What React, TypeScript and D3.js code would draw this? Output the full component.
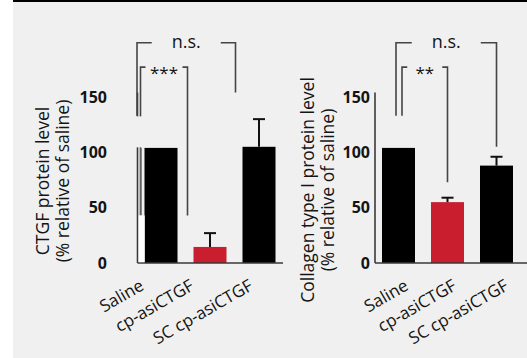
import React from 'react';
import * as d3 from 'd3';

// data
const categories = ['Saline', 'cp-asiCTGF', 'SC cp-asiCTGF'];
const ctgfMeans = [104, 14.5, 105];
const ctgfErrors = [0, 12.5, 25];
const collagenMeans = [104, 55, 88];
const collagenErrors = [0, 4, 8];
const barColors = ['#000000', '#c81e2d', '#000000'];
const yTicks = [0, 50, 100, 150];

// significance brackets (heights in axis units, dl/dr = leg shift from bar centre)
const ctgfBrackets = [
  { from: 0, to: 2, label: 'n.s.', top: 199, leftEnd: 133, rightEnd: 154, dl: -24, dr: -23.5, half: 34.5 },
  { from: 0, to: 1, label: '***', top: 177, leftEnd: 43, rightEnd: 43, dl: -20.5, dr: -22.5, half: 18.5 },
];
const collagenBrackets = [
  { from: 0, to: 2, label: 'n.s.', top: 199, leftEnd: 133, rightEnd: 105, dl: -2.5, dr: 0, half: 34.5 },
  { from: 0, to: 1, label: '**', top: 177, leftEnd: 133, rightEnd: 73, dl: 3.5, dr: 0, half: 17.5 },
];
const ctgfLabelShift = [-16, -15, -5];
const collagenLabelShift = [11, 10, 13];

const W = 527;
const H = 358;
const font = '"Open Sans", "DejaVu Sans", sans-serif';
const textColor = '#141414';
const lineColor = '#3a3a3a';

const y = d3.scaleLinear().domain([0, 150]).range([263, 97]);

type Bracket = typeof ctgfBrackets[number];

function Panel({ axisX, means, errors, brackets, title, titleX, titleY, tickX, labelShift, baseEnd, broken }: {
  axisX: number; means: number[]; errors: number[]; brackets: Bracket[];
  title: string[]; titleX: number; titleY: number; tickX: number; labelShift: number[];
  baseEnd: number; broken?: boolean;
}) {
  const x = d3.scaleBand<string>()
    .domain(categories)
    .range([axisX + 7, axisX + 7 + 131])
    .paddingInner(16 / 49)
    .paddingOuter(0);
  const bw = x.bandwidth();
  const cx = (i: number) => (x(categories[i]) as number) + bw / 2;

  return (
    <g>
      {/* y axis title */}
      <text transform={`translate(${axisX + titleX},${titleY}) rotate(-90)`} textAnchor="middle"
        fontFamily={font} fontSize={17.5} fontWeight={500} fill={textColor}>
        <tspan x={0} dy={0}>{title[0]}</tspan>
        <tspan x={0} dy={20}>{title[1]}</tspan>
      </text>

      {/* tick labels */}
      {yTicks.map(t => (
        <text key={t} x={axisX + tickX} y={y(t)} dy="0.36em" textAnchor="end"
          fontFamily={font} fontSize={16} fontWeight="bold" fill={textColor}>{t}</text>
      ))}

      {/* bars */}
      {means.map((m, i) => (
        <rect key={i} x={x(categories[i])} y={y(m)} width={bw} height={y(0) - y(m)} fill={barColors[i]} />
      ))}

      {/* error bars */}
      {means.map((m, i) => errors[i] > 0 && (
        <g key={i} stroke="#111" strokeWidth={2}>
          <line x1={cx(i)} x2={cx(i)} y1={y(m)} y2={y(m + errors[i])} />
          <line x1={cx(i) - 6} x2={cx(i) + 6} y1={y(m + errors[i])} y2={y(m + errors[i])} />
        </g>
      ))}

      {/* axes */}
      <line x1={axisX} x2={axisX} y1={y(154)} y2={y(0)} stroke={lineColor} strokeWidth={1.6} />
      <line x1={axisX} x2={baseEnd} y1={y(0)} y2={y(0)} stroke={lineColor} strokeWidth={1.6} />

      {/* brackets */}
      {brackets.map((b, k) => {
        const left = cx(b.from) + b.dl;
        const right = cx(b.to) + b.dr;
        const mid = (left + right) / 2;
        const ns = b.label === 'n.s.';
        return (
          <g key={k} fill="none" stroke="#454545" strokeWidth={1.6}>
            <polyline points={`${left},${y(b.leftEnd)} ${left},${y(b.top)} ${mid - b.half},${y(b.top)}`} />
            <polyline points={`${mid + b.half},${y(b.top)} ${right},${y(b.top)} ${right},${y(b.rightEnd)}`} />
            <text x={mid} y={y(b.top)} dy={ns ? '0.28em' : '0.68em'} textAnchor="middle" stroke="none"
              fill={textColor} fontFamily={font} fontSize={ns ? 18 : 17} fontWeight={500}>{b.label}</text>
          </g>
        );
      })}

      {/* the masked stretch of the first panel's axis */}
      {broken && (
        <g>
          <rect x={axisX - 2} y={y(132.5)} width={7} height={y(104.5) - y(132.5)} fill="#f0f0f0" />
          <line x1={axisX + 3.5} x2={axisX + 3.5} y1={y(104)} y2={y(43)} stroke="#707070" strokeWidth={1.4} />
          <rect x={axisX + 1.2} y={y(43)} width={6} height={y(0.8) - y(43)} fill="#ffffff" />
        </g>
      )}

      {/* category labels */}
      {categories.map((c, i) => (
        <text key={c} transform={`translate(${cx(i) + labelShift[i]},${y(0) + 26}) rotate(-30)`} textAnchor="end"
          fontFamily={font} fontSize={17} fontWeight={500} fill={textColor}>{c}</text>
      ))}
    </g>
  );
}

export default function App() {
  return (
    <svg width={W} height={H} style={{ position: 'absolute', left: 0, top: 0 }}>
      <rect x={0} y={0} width={W} height={H} fill="#ffffff" />
      <rect x={13} y={0} width={W - 13} height={H} fill="#f0f0f0" />
      <rect x={13} y={0} width={W - 13} height={2} fill="#000000" />
      <Panel axisX={137.5} means={ctgfMeans} errors={ctgfErrors} brackets={ctgfBrackets}
        title={['CTGF protein level', '(% relative of saline)']} titleX={-88.5} titleY={181}
        tickX={-30.5} labelShift={ctgfLabelShift} baseEnd={283} broken />
      <Panel axisX={375} means={collagenMeans} errors={collagenErrors} brackets={collagenBrackets}
        title={['Collagen type I protein level', '(% relative of saline)']} titleX={-61} titleY={190}
        tickX={-5} labelShift={collagenLabelShift} baseEnd={527} />
    </svg>
  );
}
